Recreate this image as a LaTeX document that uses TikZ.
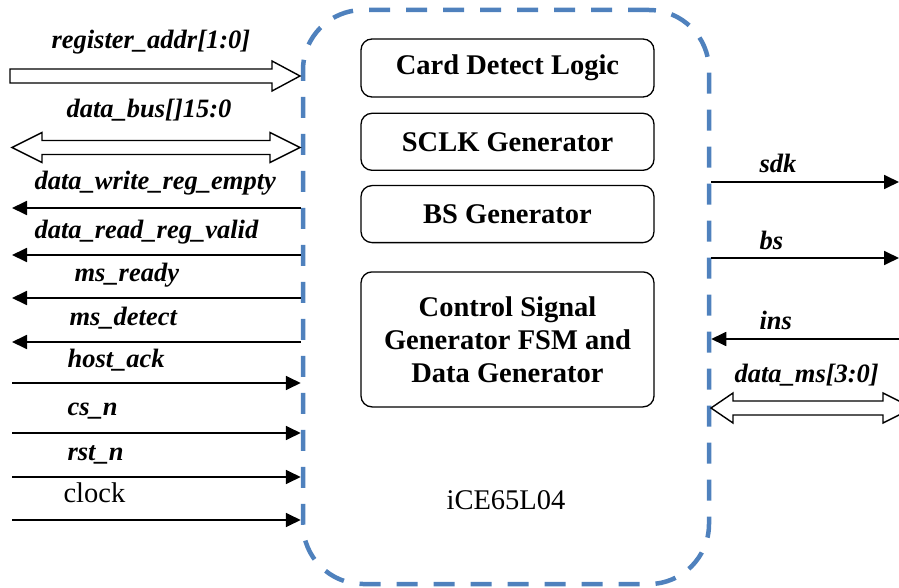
\documentclass[tikz,border=0pt]{standalone}
\usepackage{fontspec}
\setmainfont{Liberation Serif}
\usetikzlibrary{arrows.meta,positioning}
\definecolor{chipblue}{RGB}{79,129,189}
% hollow bus arrows (x from, x to, y)
\newcommand{\busR}[3]{\draw[bus] (#1,#3-7) -- (#2-28,#3-7) -- (#2-28,#3-15)
  -- (#2,#3) -- (#2-28,#3+15) -- (#2-28,#3+7) -- (#1,#3+7) -- cycle;}
\newcommand{\busLR}[5]{\draw[bus] (#1,#3) -- (#1+#4,#3-15) -- (#1+#4,#3-7)
  -- (#2-#5,#3-7) -- (#2-#5,#3-15) -- (#2,#3) -- (#2-#5,#3+15)
  -- (#2-#5,#3+7) -- (#1+#4,#3+7) -- (#1+#4,#3+15) -- cycle;}

\begin{document}
\begin{tikzpicture}[x=1pt, y=-1pt,
  chip/.style={draw=chipblue, line width=4.5pt, dash pattern=on 21pt off 16pt,
               rounded corners=60pt, minimum width=406pt, minimum height=574pt},
  block/.style={draw, line width=1.3pt, rounded corners=11pt, minimum width=293pt,
                font=\fontsize{28.5}{33}\selectfont\bfseries, align=center},
  sig/.style={font=\fontsize{26.5}{30}\selectfont\bfseries\itshape, anchor=west},
  wire/.style={line width=1.8pt, -{Triangle[length=15pt,width=14pt]}},
  bus/.style={draw, line width=1.4pt, fill=white},
  node distance=15pt
]
\clip (0,0) rectangle (899,588);

%% ===== chip =====
\node[chip] (chip) at (506,297) {};
\node[block, minimum height=58pt] (cdl) at (507.5,68) {Card Detect Logic};
\node[block, minimum height=57pt, below=15pt of cdl] (sclk) {SCLK Generator};
\node[block, minimum height=57pt, below=14pt of sclk] (bsg) {BS Generator};
\node[block, minimum height=135pt, below=28pt of bsg] (ctrl)
  {Control Signal\\Generator FSM and\\Data Generator};
\node[font=\fontsize{28.5}{32}\selectfont] (part) at (506,500) {iCE65L04};

%% ===== left side =====
\busR{10}{300}{76}
\node[sig] (l-raddr) at (48,42) {register\_addr[1:0]};
\busLR{12}{300}{147.5}{30}{30}
\node[sig] (l-dbus) at (63,110) {data\_bus[]15:0};

\coordinate (dwre) at (12,208);
\coordinate (drrv) at (12,255);
\coordinate (msrdy) at (12,298);
\coordinate (msdet) at (12,342);
\coordinate (hack) at (12,383);
\coordinate (csn) at (12,433);
\coordinate (rstn) at (12,477);
\coordinate (clk) at (12,520);

\draw[wire] (chip.west |- dwre) -- (dwre);
\draw[wire] (chip.west |- drrv) -- (drrv);
\draw[wire] (chip.west |- msrdy) -- (msrdy);
\draw[wire] (chip.west |- msdet) -- (msdet);
\draw[wire] (hack) -- (hack -| chip.west);
\draw[wire] (csn) -- (csn -| chip.west);
\draw[wire] (rstn) -- (rstn -| chip.west);
\draw[wire] (clk) -- (clk -| chip.west);

\node[sig] (l-dwre) at (31,183) {data\_write\_reg\_empty};
\node[sig] (l-drrv) at (31,232) {data\_read\_reg\_valid};
\node[sig] (l-msrdy) at (71,275) {ms\_ready};
\node[sig] (l-msdet) at (66,318) {ms\_detect};
\node[sig] (l-hack) at (64,360) {host\_ack};
\node[sig] (l-csn) at (64,411) {cs\_n};
\node[sig] (l-rstn) at (64,455) {rst\_n};
\node[font=\fontsize{28.5}{32}\selectfont, anchor=west] (l-clk) at (60,493) {clock};

%% ===== right side =====
\coordinate (sdk) at (899,182);
\coordinate (bs) at (899,258);
\coordinate (ins) at (899,339);
\draw[wire] (chip.east |- sdk) -- (sdk);
\draw[wire] (chip.east |- bs) -- (bs);
\draw[wire] (ins) -- (ins -| chip.east);
\busLR{711}{913}{408}{22}{30}

\node[sig] (l-sdk) at (756,163) {sdk};
\node[sig] (l-bs) at (756,240) {bs};
\node[sig] (l-ins) at (756,320) {ins};
\node[sig] (l-dms) at (731,375) {data\_ms[3:0]};
\end{tikzpicture}
\end{document}
